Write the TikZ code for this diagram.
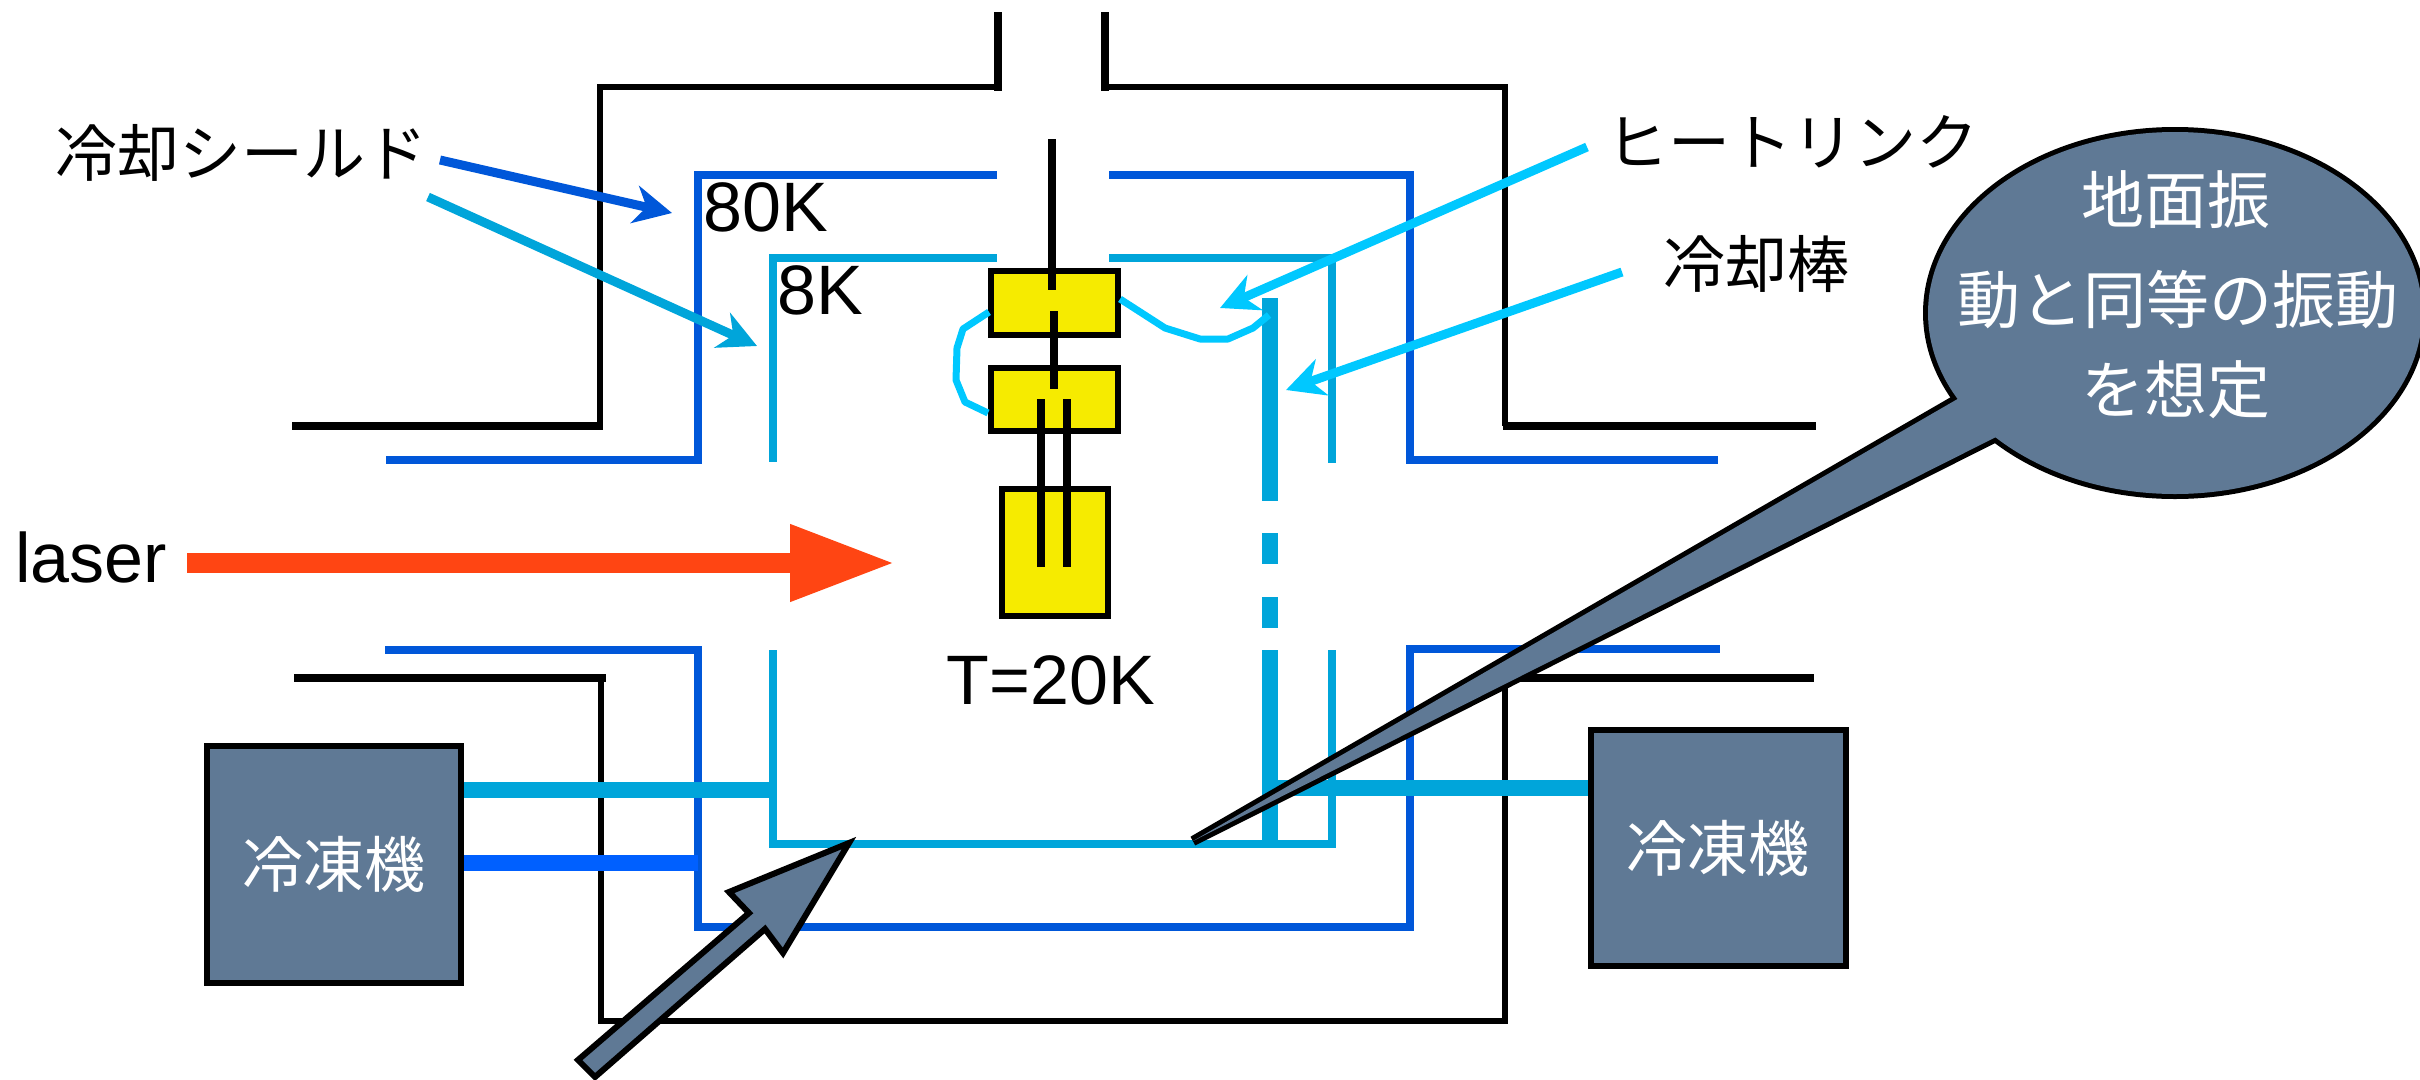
\documentclass[tikz,border=0pt]{standalone}
\usepackage{fontspec}
\setmainfont{Liberation Sans}
\newfontfamily\cjk{Noto Sans CJK JP}
\usetikzlibrary{arrows.meta}
\definecolor{shellA}{HTML}{0057D9}
\definecolor{shellB}{HTML}{00A5DA}
\definecolor{pipeB}{HTML}{0060FF}
\definecolor{linkC}{HTML}{00C8FF}
\definecolor{slateF}{HTML}{5F7995}
\definecolor{yellowF}{HTML}{F6EB00}
\definecolor{laserC}{HTML}{FF4513}
\tikzset{
  x=1pt,y=-1pt,
  blk/.style={draw=black,line width=8pt,line join=miter},
  thin blk/.style={draw=black,line width=5.5pt},
  sA/.style={draw=shellA,line width=8pt},
  sB/.style={draw=shellB,line width=8pt},
  rod/.style={draw=black,line width=8pt},
  bar/.style={draw=shellB,line width=16pt},
  hlink/.style={draw=linkC,line width=7pt,line join=round},
  ann/.style={line width=9pt,-{Stealth[length=38pt,width=38pt,inset=12pt]}},
  yb/.style={draw=black,fill=yellowF,line width=6pt,inner sep=0pt},
  cold/.style={draw=black,fill=slateF,line width=6pt,inner sep=0pt,text=white,font=\fontsize{61}{68}\selectfont\cjk},
  jp/.style={inner sep=0pt,font=\fontsize{62}{70}\selectfont\cjk},
  lat/.style={inner sep=0pt,font=\fontsize{70}{78}\selectfont},
  wjp/.style={inner sep=0pt,text=white,font=\fontsize{63}{70}\selectfont\cjk},
}
\begin{document}
\begin{tikzpicture}
\useasboundingbox (0,0) rectangle (2420,1079);
% outer shell
\draw[rod] (998,12) -- (998,91);
\draw[rod] (1105,12) -- (1105,91);
\draw[thin blk] (998,87) -- (600,87) -- (600,426);
\draw[thin blk] (1105,87) -- (1505,87) -- (1505,426);
\draw[blk] (292,426) -- (603,426);
\draw[blk] (1503,426) -- (1816,426);
\draw[blk] (294,678) -- (606,678);
\draw[blk] (1503,678) -- (1814,678);
\draw[thin blk] (601,678) -- (601,1021) -- (1505,1021) -- (1505,678);
% 80K shield
\draw[sA] (997,175) -- (698,175) -- (698,460) -- (386,460);
\draw[sA] (1109,175) -- (1410,175) -- (1410,460) -- (1718,460);
\draw[sA] (385,650) -- (698,650) -- (698,927) -- (1410,927) -- (1410,649) -- (1720,649);
% 8K shield
\draw[sB] (997,258) -- (773,258) -- (773,462);
\draw[sB] (1109,258) -- (1332,258) -- (1332,463);
\draw[sB] (773,650) -- (773,844) -- (1332,844) -- (1332,650);
% cooling rod
\draw[bar] (1270,298) -- (1270,501);
\draw[bar] (1270,533) -- (1270,564);
\draw[bar] (1270,597) -- (1270,628);
\draw[bar] (1270,650) -- (1270,848);
% refrigerators
\node[cold,minimum width=254pt,minimum height=237pt] (fridgeL) at (334,864) {冷凍機};
\node[cold,minimum width=255pt,minimum height=236pt] (fridgeR) at (1718,848) {冷凍機};
\coordinate (sL) at (773,790);
\coordinate (sA) at (698,863);
\coordinate (sR) at (1270,788);
\draw[bar] (fridgeL.east |- sL) -- (sL);
\draw[draw=pipeB,line width=16pt] (fridgeL.east |- sA) -- (sA);
\draw[bar] (fridgeR.west |- sR) -- (sR);
% mirror suspension
\node[yb,minimum width=127pt,minimum height=64pt] (m1) at (1054.5,303) {};
\node[yb,minimum width=127pt,minimum height=63pt] (m2) at (1054.5,399) {};
\node[yb,minimum width=106pt,minimum height=127pt] (m3) at (1054.5,552) {};
\draw[rod] (1052,139) -- (1052,290);
\draw[rod] (1054,311) -- (1054,389);
\draw[rod] (1041,399) -- (1041,567);
\draw[rod] (1067,399) -- (1067,567);
% heat links
\draw[hlink] (989,312) -- (963,329) -- (957,348) -- (956,380) -- (965,402) -- (988,413);
\draw[hlink] (1120,299) -- (1165,328) -- (1200,339) -- (1228,339) -- (1253,328) -- (1269,315);
% laser
\coordinate (laS) at (187,563);
\coordinate (laE) at (895,563);
\draw[laserC,line width=20pt,-{Triangle[length=105pt,width=72pt]}] (laS) -- (laE);
% labels
\node[jp] (shield) at (241,153) {冷却シールド};
\node[jp] (hlabel) at (1792,142) {ヒートリンク};
\node[jp] (rlabel) at (1756,264) {冷却棒};
\node[lat] (k80) at (766,207) {80K};
\node[lat] (k8) at (820,290) {8K};
\node[lat] (lsr) at (91,557) {laser};
\node[lat] (t20) at (1051,680) {T=20K};
% annotation arrows
\coordinate (a1s) at (440,160); \coordinate (a1e) at (672,213);
\coordinate (a2s) at (428,197); \coordinate (a2e) at (757,346);
\coordinate (a3s) at (1587,147); \coordinate (a3e) at (1220,308);
\coordinate (a4s) at (1622,272); \coordinate (a4e) at (1286,390);
\draw[ann,shellA] (a1s) -- (a1e);
\draw[ann,shellB] (a2s) -- (a2e);
\draw[ann,linkC] (a3s) -- (a3e);
\draw[ann,linkC] (a4s) -- (a4e);
% big arrow
\draw[draw=black,fill=slateF,line width=6pt,line join=miter]
  (849,843) -- (783,953) -- (765,929) -- (595,1077) -- (578,1060) -- (749,913) -- (729,892) -- cycle;
% callout
\draw[draw=black,line width=10pt,line join=miter,miter limit=3] (1193,841) -- (1961,397) -- (2040,400) -- (1998,436) -- cycle;
\draw[draw=black,line width=10pt] (2175,313) ellipse [x radius=247, y radius=181];
\fill[slateF] (1193,841) -- (1961,397) -- (2040,400) -- (1998,436) -- cycle;
\fill[slateF] (2175,313) ellipse [x radius=247, y radius=181];
\node[wjp] (b1) at (2176,200) {地面振};
\node[wjp] (b2) at (2178,300) {動と同等の振動};
\node[wjp] (b3) at (2176,390) {を想定};
\end{tikzpicture}
\end{document}
